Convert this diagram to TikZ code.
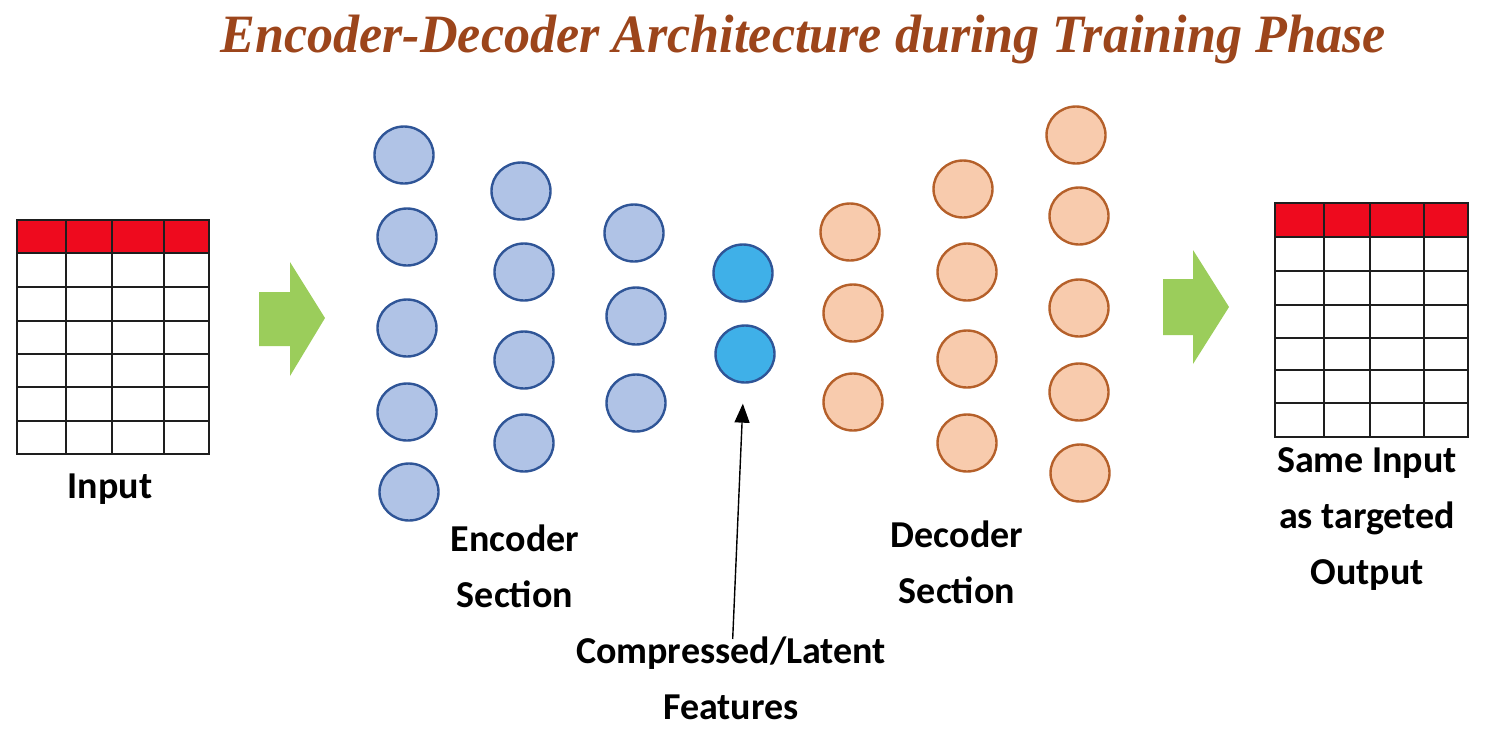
\documentclass[tikz,border=0pt]{standalone}
\usepackage{fontspec}
\setmainfont{Carlito}
\newfontfamily\titlefont{Liberation Serif}
\usetikzlibrary{shapes.geometric,arrows.meta}
\definecolor{tred}{HTML}{EE0A1E}
\definecolor{encfill}{HTML}{B0C3E6}
\definecolor{encdraw}{HTML}{2F5597}
\definecolor{latfill}{HTML}{3FB0E8}
\definecolor{decfill}{HTML}{F8CBAD}
\definecolor{decdraw}{HTML}{B5602A}
\definecolor{garrow}{HTML}{9BCD5B}
\definecolor{titlebrown}{HTML}{9C451B}
\definecolor{gridc}{HTML}{1E1E1E}
\begin{document}
\begin{tikzpicture}[x=1pt,y=-1pt,
  neuron/.style={ellipse,minimum width=59pt,minimum height=57pt,inner sep=0pt,line width=2.4pt},
  enc/.style={neuron,draw=encdraw,fill=encfill},
  lat/.style={neuron,draw=encdraw,fill=latfill},
  dec/.style={neuron,draw=decdraw,fill=decfill},
  gridline/.style={draw=gridc,line width=2pt},
  lbl/.style={font=\fontsize{38}{56}\selectfont\bfseries,align=center,text=black},
  bigarrow/.style={fill=garrow,draw=none}]
\useasboundingbox (0,0) rectangle (1498,729);
% title
\node[anchor=base,text=titlebrown] (title) at (803,52)
  {\resizebox{1165pt}{\height}{\titlefont\fontsize{54}{60}\selectfont\bfseries\itshape Encoder-Decoder Architecture during Training Phase}};
% input table
\fill[tred] (17,220) rectangle (209,253);
\foreach \y in {253,287,321,354,387,421} \draw[gridline] (17,\y) -- (209,\y);
\foreach \x in {66,112,164} \draw[gridline] (\x,220) -- (\x,454);
\draw[gridline] (17,220) rectangle (209,454);
\node[lbl] (inlbl) at (110,489) {Input};
% green arrow 1
\fill[bigarrow] (259,292) -- (290,292) -- (290,262) -- (325,318) -- (290,376) -- (290,346) -- (259,346) -- cycle;
% encoder
\node[enc] (e11) at (404,155) {};
\node[enc] (e12) at (407,237) {};
\node[enc] (e13) at (407,328) {};
\node[enc] (e14) at (407,412) {};
\node[enc] (e15) at (409,492) {};
\node[enc] (e21) at (521,191) {};
\node[enc] (e22) at (524,272) {};
\node[enc] (e23) at (524,360) {};
\node[enc] (e24) at (524,443) {};
\node[enc] (e31) at (634,233) {};
\node[enc] (e32) at (636,316) {};
\node[enc] (e33) at (636,403) {};
% latent
\node[lat] (l1) at (743,273) {};
\node[lat] (l2) at (745,354) {};
% decoder
\node[dec] (d11) at (850,232) {};
\node[dec] (d12) at (853,313) {};
\node[dec] (d13) at (853,402) {};
\node[dec] (d21) at (963,189) {};
\node[dec] (d22) at (967,272) {};
\node[dec] (d23) at (967,359) {};
\node[dec] (d24) at (967,443) {};
\node[dec] (d31) at (1076,135) {};
\node[dec] (d32) at (1079,216) {};
\node[dec] (d33) at (1079,308) {};
\node[dec] (d34) at (1079,392) {};
\node[dec] (d35) at (1080,473) {};
% labels
\node[lbl] (enclbl) at (515,566) {Encoder\\Section};
\node[lbl] (declbl) at (957,562) {Decoder\\Section};
\node[lbl] (comp) at (731,678) {Compressed/Latent\\Features};
\draw[line width=1.4pt,-{Triangle[length=19pt,width=15pt]},shorten >=20pt,shorten <=-6pt] (comp) -- (l2);
% green arrow 2
\fill[bigarrow] (1163,279) -- (1193,279) -- (1193,250) -- (1229,307) -- (1193,364) -- (1193,335) -- (1163,335) -- cycle;
% output table
\fill[tred] (1275,203) rectangle (1468,237);
\foreach \y in {237,271,305,338,370,403} \draw[gridline] (1275,\y) -- (1468,\y);
\foreach \x in {1324,1370,1424} \draw[gridline] (\x,203) -- (\x,437);
\draw[gridline] (1275,203) rectangle (1468,437);
\node[lbl] (outlbl) at (1367,519) {Same Input\\as targeted\\Output};
\end{tikzpicture}
\end{document}
